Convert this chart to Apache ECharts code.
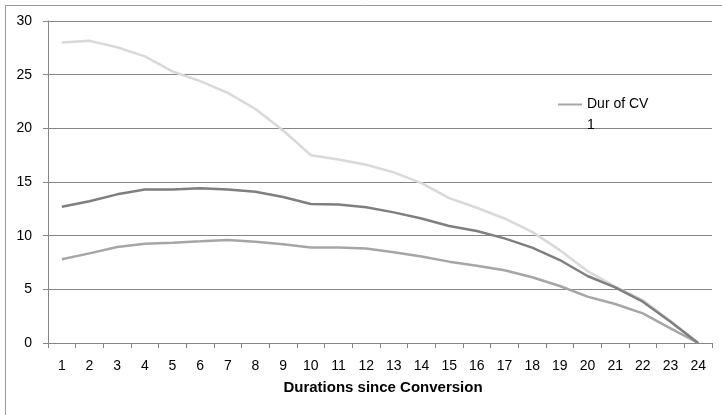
<!DOCTYPE html>
<html>
<head>
<meta charset="utf-8">
<script src="https://cdn.jsdelivr.net/npm/echarts@6/dist/echarts.min.js"></script>
<style>
html,body{margin:0;padding:0;background:#fff;}
#c{width:722px;height:415px;}
</style>
</head>
<body>
<div id="c"></div>
<script>
var categories = ['1','2','3','4','5','6','7','8','9','10','11','12','13','14','15','16','17','18','19','20','21','22','23','24'];
var seriesTop = [28.0, 28.15, 27.55, 26.7, 25.3, 24.4, 23.3, 21.8, 19.8, 17.5, 17.1, 16.6, 15.9, 14.9, 13.5, 12.6, 11.6, 10.35, 8.65, 6.7, 5.25, 4.0, 2.05, 0];
var seriesMid = [12.7, 13.2, 13.85, 14.3, 14.3, 14.42, 14.3, 14.1, 13.6, 12.95, 12.9, 12.64, 12.17, 11.6, 10.9, 10.43, 9.75, 8.88, 7.73, 6.24, 5.19, 3.85, 1.99, 0];
var seriesLow = [7.8, 8.35, 8.95, 9.25, 9.35, 9.47, 9.6, 9.44, 9.2, 8.9, 8.9, 8.8, 8.45, 8.05, 7.58, 7.2, 6.78, 6.12, 5.31, 4.32, 3.63, 2.76, 1.37, 0];
var yTicks = [0, 5, 10, 15, 20, 25, 30];
var legendName = 'Dur of CV 1';
var xTitle = 'Durations since Conversion';

var chart = echarts.init(document.getElementById('c'), null, {renderer: 'canvas'});
var font = 'Liberation Sans, Arial, sans-serif';
chart.setOption({
  animation: false,
  backgroundColor: '#ffffff',
  grid: {left: 48, right: 10, top: 21, bottom: 72, containLabel: false},
  legend: {
    data: [legendName],
    left: 553, top: 89,
    orient: 'vertical',
    itemWidth: 24, itemHeight: 42, itemGap: 0,
    icon: 'path://M0,0 M0,42 M0,9.5 L24,9.5 L24,11.5 L0,11.5 Z',
    formatter: function () { return 'Dur of CV\n1'; },
    textStyle: {fontFamily: font, fontSize: 14, color: '#000', lineHeight: 21},
    itemStyle: {borderWidth: 0}
  },
  xAxis: {
    type: 'category',
    data: categories,
    boundaryGap: true,
    axisLine: {lineStyle: {color: '#868686', width: 1}},
    axisTick: {show: true, alignWithLabel: false, length: 5, lineStyle: {color: '#868686'}},
    axisLabel: {fontFamily: font, fontSize: 14, color: '#000', margin: 16, interval: 0}
  },
  yAxis: {
    type: 'value',
    min: 0, max: 30, interval: 5,
    axisLine: {show: true, lineStyle: {color: '#868686', width: 1}},
    axisTick: {show: true, length: 5, lineStyle: {color: '#868686'}},
    axisLabel: {fontFamily: font, fontSize: 14, color: '#000', margin: 16,
      formatter: function (v) { return yTicks.indexOf(v) >= 0 ? String(v) : ''; }},
    splitLine: {show: true, lineStyle: {color: '#868686', width: 1}}
  },
  graphic: [
    {type: 'line', shape: {x1: 5, y1: 5.5, x2: 722, y2: 5.5},
      style: {stroke: '#9a9a9a', lineWidth: 1}, silent: true, z: 10},
    {type: 'line', shape: {x1: 5.5, y1: 5, x2: 5.5, y2: 415},
      style: {stroke: '#9a9a9a', lineWidth: 1}, silent: true, z: 10},
    {type: 'text', x: 383, y: 388,
      style: {text: xTitle, fontFamily: font, fontSize: 15, fontWeight: 'bold', fill: '#000',
        textAlign: 'center', textVerticalAlign: 'middle', verticalAlign: 'middle', align: 'center'}}
  ],
  series: [
    {name: 'Dur of CV 3', type: 'line', data: seriesTop, symbol: 'none', smooth: false,
      lineStyle: {color: '#d9d9d9', width: 2.5}, itemStyle: {color: '#d9d9d9'}},
    {name: legendName, type: 'line', data: seriesLow, symbol: 'none', smooth: false,
      lineStyle: {color: '#a6a6a6', width: 2.5}, itemStyle: {color: '#a6a6a6'}},
    {name: 'Dur of CV 2', type: 'line', data: seriesMid, symbol: 'none', smooth: false,
      lineStyle: {color: '#7f7f7f', width: 2.5}, itemStyle: {color: '#7f7f7f'}}
  ]
});
</script>
</body>
</html>
